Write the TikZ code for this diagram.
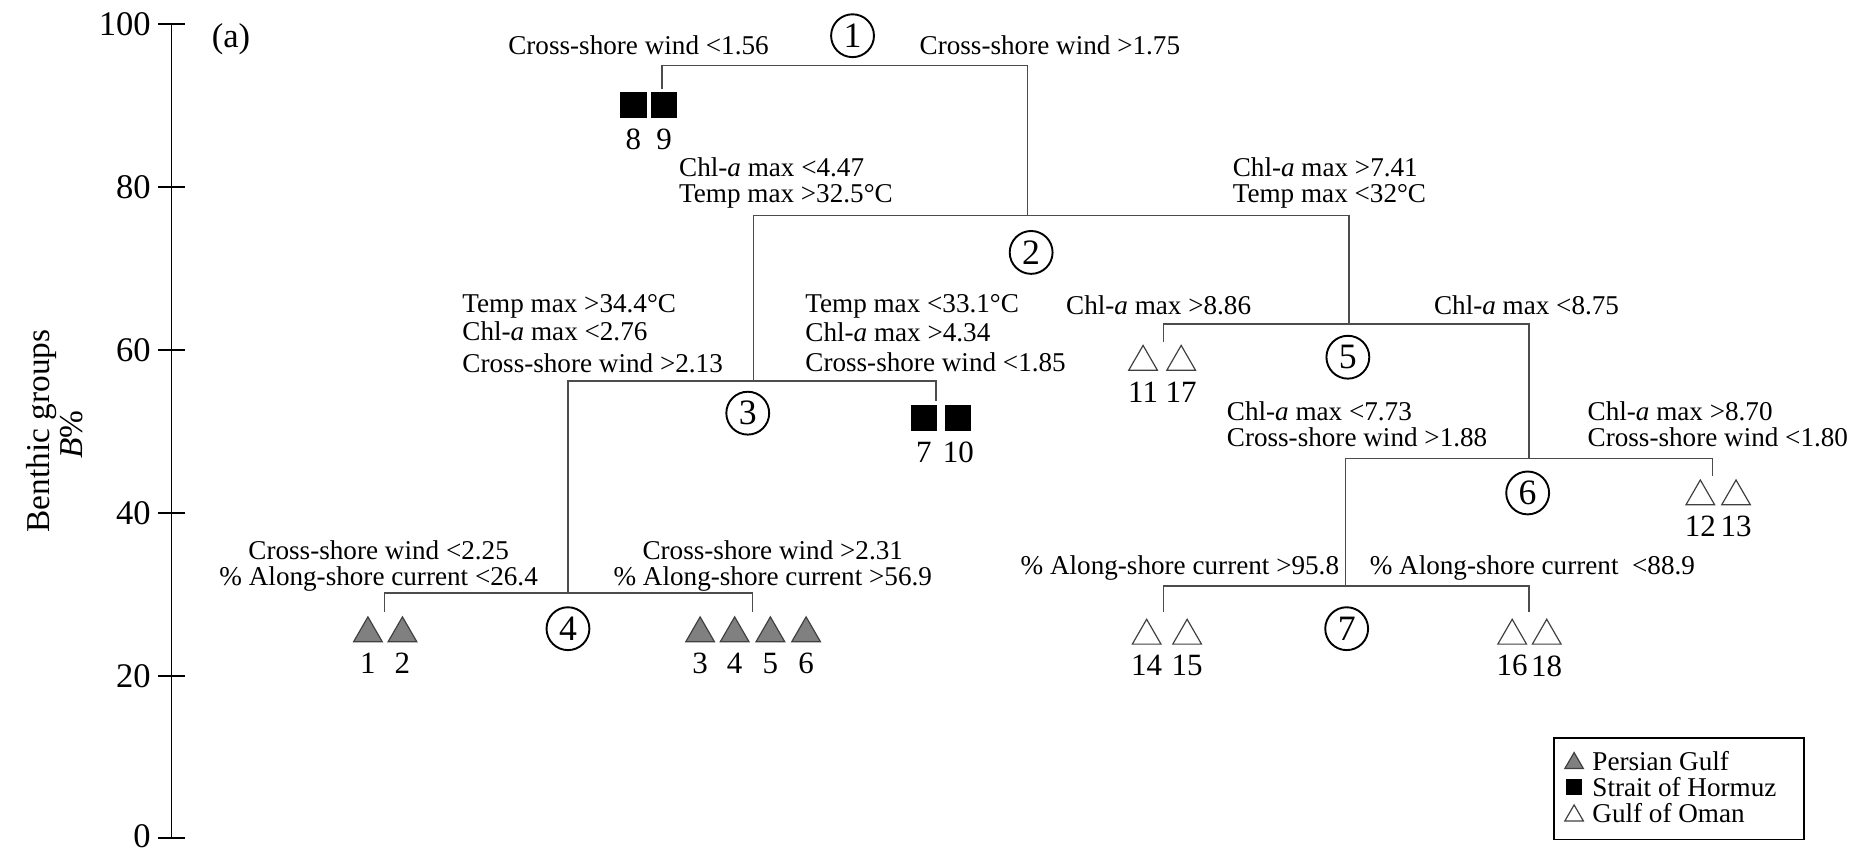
\documentclass[tikz,border=0pt]{standalone}
\usepackage{fontspec}
\setmainfont{Liberation Serif}
\usetikzlibrary{positioning,shapes.geometric}

\begin{document}
\begin{tikzpicture}
  [x=0.5pt, y=-0.5pt,
  branch/.style={draw=black!70, line width=0.6pt},
  axis/.style={draw=black, line width=0.7pt},
  split/.style={circle, draw=black, line width=0.8pt, minimum size=18pt, inner sep=0pt, font=\fontsize{15}{15}\selectfont},
  cond/.style={font=\fontsize{11.4}{10.8}\selectfont, inner sep=0pt},
  leafnum/.style={font=\fontsize{13}{13}\selectfont, label distance=1pt},
  pgulf/.style={regular polygon, regular polygon sides=3, draw=black!75, fill=black!50, minimum size=13.9pt, inner sep=0pt, line width=0.5pt},
  ogulf/.style={pgulf, fill=white},
  hormuz/.style={rectangle, fill=black, minimum size=11pt, inner sep=0pt},
  ticklab/.style={anchor=east, inner sep=0pt, font=\fontsize{14.5}{14.5}\selectfont}]
  \useasboundingbox (0,0) rectangle (1568,716);

  % axis
  \draw[axis] (144,704) -- (144,20);
  \draw[axis] (133,20) -- (155,20);
  \draw[axis] (133,157) -- (155,157);
  \draw[axis] (133,294) -- (155,294);
  \draw[axis] (133,431) -- (155,431);
  \draw[axis] (133,568) -- (155,568);
  \draw[axis] (133,704) -- (155,704);
  \node[ticklab] (t100) at (127,20) {100};
  \node[ticklab] (t80) at (127,157) {80};
  \node[ticklab] (t60) at (127,294) {60};
  \node[ticklab] (t40) at (127,431) {40};
  \node[ticklab] (t20) at (127,568) {20};
  \node[ticklab] (t0) at (127,702) {0};
  \node[rotate=90, font=\fontsize{14}{14}\selectfont] (ytitle) at (35,362) {Benthic groups};
  \node[rotate=90, font=\fontsize{14}{14}\selectfont] (yunit) at (60,365) {\textit{B}\%};
  \node[font=\fontsize{14.5}{14.5}\selectfont] (panel) at (194,33) {(a)};

  % split points
  \coordinate (s1) at (716,55);
  \coordinate (s2) at (863,181);
  \coordinate (s3) at (633,320);
  \coordinate (s4) at (477,498);
  \coordinate (s5) at (1133,272);
  \coordinate (s6) at (1284,385);
  \coordinate (s7) at (1130,492);
  \coordinate (d89) at (556,75);
  \coordinate (d710) at (786,337);
  \coordinate (d1117) at (977,287);
  \coordinate (d1213) at (1438,400);
  \coordinate (d12) at (323,514);
  \coordinate (d36) at (632,514);
  \coordinate (d1415) at (977,514);
  \coordinate (d1618) at (1284,514);

  % split labels
  \node[split] (n1) at (716,30) {1};
  \node[split] (n2) at (866,212) {2};
  \node[split] (n3) at (628,347) {3};
  \node[split] (n4) at (477,528) {4};
  \node[split] (n5) at (1132,300) {5};
  \node[split] (n6) at (1283,414) {6};
  \node[split] (n7) at (1131,528) {7};

  % sites
  \node[hormuz, label={[leafnum]below:8}] (l8) at (532,88) {};
  \node[hormuz, right=1.5pt of l8, label={[leafnum]below:9}] (l9) {};
  \node[hormuz, label={[leafnum]below:7}] (l7) at (776,351) {};
  \node[hormuz, right=3pt of l7, label={[leafnum]below:10}] (l10) {};
  \node[ogulf, label={[leafnum]below:11}] (l11) at (960,304) {};
  \node[ogulf, label={[leafnum]below:17}] (l17) at (992,304) {};
  \node[ogulf, label={[leafnum]below:12}] (l12) at (1428,417) {};
  \node[ogulf, label={[leafnum]below:13}] (l13) at (1458,417) {};
  \node[pgulf, label={[leafnum]below:1}] (l1) at (309,532) {};
  \node[pgulf, label={[leafnum]below:2}] (l2) at (338,532) {};
  \node[pgulf, label={[leafnum]below:3}] (l3) at (588,532) {};
  \node[pgulf, label={[leafnum]below:4}] (l4) at (617,532) {};
  \node[pgulf, label={[leafnum]below:5}] (l5) at (647,532) {};
  \node[pgulf, label={[leafnum]below:6}] (l6) at (677,532) {};
  \node[ogulf, label={[leafnum]below:14}] (l14) at (963,534) {};
  \node[ogulf, label={[leafnum]below:15}] (l15) at (997,534) {};
  \node[ogulf, label={[leafnum]below:16}] (l16) at (1270,534) {};
  \node[ogulf, label={[leafnum]below:18}] (l18) at (1299,534) {};

  % branches
  \draw[branch] (d89) |- (s1) -| (s2);
  \draw[branch] (s3) |- (s2) -| (s5);
  \draw[branch] (s4) |- (s3) -| (d710);
  \draw[branch] (d12) |- (s4) -| (d36);
  \draw[branch] (d1117) |- (s5) -| (s6);
  \draw[branch] (s7) |- (s6) -| (d1213);
  \draw[branch] (d1415) |- (s7) -| (d1618);

  % conditions
  \node[cond, anchor=east] (c1l) at (646,38) {Cross-shore wind <1.56};
  \node[cond, anchor=west] (c1r) at (772,38) {Cross-shore wind >1.75};
  \node[cond, anchor=north west, align=left] (c2l) at (570,132) {Chl-\textit{a} max <4.47\\Temp max >32.5°C};
  \node[cond, anchor=north west, align=left] (c2r) at (1035,132) {Chl-\textit{a} max >7.41\\Temp max <32°C};
  \node[cond, anchor=north west, align=left] (c3l) at (388,247) {Temp max >34.4°C\\[1pt]Chl-\textit{a} max <2.76\\[2.5pt]Cross-shore wind >2.13};
  \node[cond, anchor=north west, align=left] (c3r) at (676,247) {Temp max <33.1°C\\[1.5pt]Chl-\textit{a} max >4.34\\[1.5pt]Cross-shore wind <1.85};
  \node[cond, anchor=west] (c5l) at (895,256) {Chl-\textit{a} max >8.86};
  \node[cond, anchor=west] (c5r) at (1204,256) {Chl-\textit{a} max <8.75};
  \node[cond, anchor=north west, align=left] (c6l) at (1030,337) {Chl-\textit{a} max <7.73\\Cross-shore wind >1.88};
  \node[cond, anchor=north west, align=left] (c6r) at (1333,337) {Chl-\textit{a} max >8.70\\Cross-shore wind <1.80};
  \node[cond, anchor=north, align=center] (c4l) at (318,454) {Cross-shore wind <2.25\\\% Along-shore current <26.4};
  \node[cond, anchor=north, align=center] (c4r) at (649,454) {Cross-shore wind >2.31\\\% Along-shore current >56.9};
  \node[cond, anchor=east] (c7l) at (1125,477) {\% Along-shore current >95.8};
  \node[cond, anchor=west] (c7r) at (1150,477) {\% Along-shore current~ <88.9};

  % legend
  \node[draw, line width=0.7pt, minimum width=105pt, minimum height=42.5pt, inner sep=0pt] (legend) at (1410,662.5) {};
  \node[pgulf, minimum size=9pt] (kpg) at (1322,641) {};
  \node[hormuz, minimum size=7pt] (ksh) at (1322,661) {};
  \node[ogulf, minimum size=9pt] (kgo) at (1322,685) {};
  \node[cond, anchor=west] (tpg) at (1337,639) {Persian Gulf};
  \node[cond, anchor=west] (tsh) at (1337,661) {Strait of Hormuz};
  \node[cond, anchor=west] (tgo) at (1337,683) {Gulf of Oman};
\end{tikzpicture}
\end{document}
